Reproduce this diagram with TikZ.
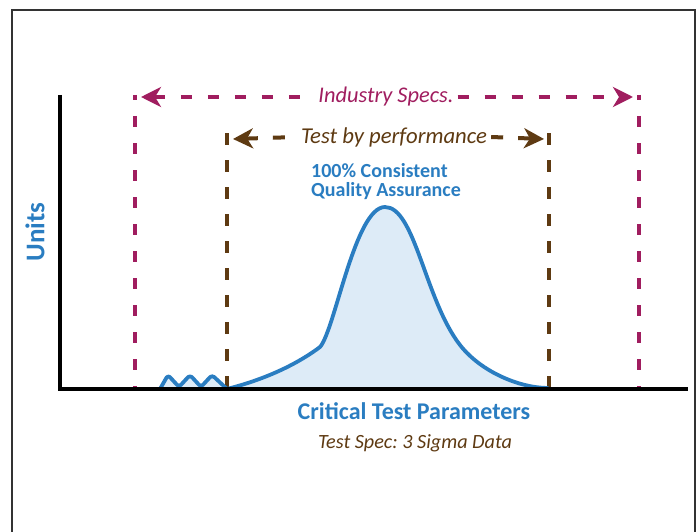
\documentclass[tikz,border=0pt]{standalone}
\usepackage{fontspec}
\setmainfont{Carlito}
\usetikzlibrary{arrows.meta}
\frenchspacing

\definecolor{curveBlue}{HTML}{2A7DC1}
\definecolor{curveFill}{HTML}{DDEBF7}
\definecolor{specMagenta}{HTML}{A01D5F}
\definecolor{perfBrown}{HTML}{5E3A12}

\tikzstyle{frameLine} = [line width=1.5pt, black!80]
\tikzstyle{axisLine} = [line width=4pt, black]
\tikzstyle{specLine} = [line width=4pt, specMagenta, dash pattern=on 11pt off 16pt]
\tikzstyle{perfLine} = [line width=4pt, perfBrown, dash pattern=on 12pt off 15pt]
\tikzstyle{arrow} = [>={Stealth[length=20pt,width=20pt,inset=6pt]}]
\tikzstyle{curveLine} = [line width=3.8pt, curveBlue, line join=round, line cap=round]
\tikzstyle{blueLabel} = [text=curveBlue, font=\fontsize{24}{26}\selectfont\bfseries, inner sep=0pt]
\tikzstyle{specLabel} = [text=specMagenta, font=\fontsize{22.4}{24}\selectfont\itshape, inner sep=4pt]
\tikzstyle{perfLabel} = [text=perfBrown, font=\fontsize{22.7}{24}\selectfont\itshape, inner sep=4pt]

\begin{document}
\begin{tikzpicture}[x=1pt,y=-1pt]
    \useasboundingbox (0,0) rectangle (698,532);
    \draw [frameLine] (12,532) -- (12,10) -- (695,10) -- (695,532);

    % distribution
    \fill [curveFill, rounded corners=3pt] (160,389) -- (168,375) -- (179,387) -- (190,375) -- (201,387) -- (212,375) -- (227,389) -- cycle;
    \fill [curveFill] (227,389) .. controls (270,378) and (300,362) .. (320,347)
        .. controls (335,330) and (355,207) .. (385,207)
        .. controls (415,207) and (425,300) .. (460,345)
        .. controls (481,372) and (520,388) .. (548,388) -- cycle;

    % spec limits
    \coordinate (specTopL) at (135,95);
    \coordinate (specBotL) at (135,389);
    \coordinate (specTopR) at (639,95);
    \coordinate (specBotR) at (639,389);
    \coordinate (perfTopL) at (227,133);
    \coordinate (perfBotL) at (227,389);
    \coordinate (perfTopR) at (549,133);
    \coordinate (perfBotR) at (549,389);
    \draw [specLine, dash phase=6pt] (specTopL) -- (specBotL);
    \draw [specLine, dash phase=6pt] (specTopR) -- (specBotR);
    \draw [perfLine] (perfTopL) -- (perfBotL);
    \draw [perfLine] (perfTopR) -- (perfBotR);

    \draw [curveLine, rounded corners=3pt] (160,389) -- (168,375) -- (179,387) -- (190,375) -- (201,387) -- (212,375) -- (227,389);
    \draw [curveLine] (227,389) .. controls (270,378) and (300,362) .. (320,347)
        .. controls (335,330) and (355,207) .. (385,207)
        .. controls (415,207) and (425,300) .. (460,345)
        .. controls (481,372) and (520,388) .. (548,388);

    % arrows
    \node (specText) [specLabel] at (386,97) {Industry Specs.};
    \coordinate (specL) at (141,97);
    \coordinate (specR) at (633,97);
    \draw [specLine, arrow, <-] (specL) -- (specText.west);
    \draw [specLine, arrow, ->] (specText.east) -- (specR);

    \node (perfText) [perfLabel] at (394,137) {Test by performance};
    \coordinate (perfL) at (233,139);
    \coordinate (perfR) at (544,139);
    \draw [perfLine, arrow, <-] (perfL) -- (perfText.west);
    \draw [perfLine, arrow, ->] (perfText.east) -- (perfR);

    % axes
    \coordinate (origin) at (60,389);
    \coordinate (yEnd) at (60,95);
    \coordinate (xEnd) at (688,389);
    \draw [axisLine] (yEnd) -- (origin) -- (xEnd);

    % labels
    \node (units) [blueLabel, rotate=90, font=\fontsize{27}{29}\selectfont\bfseries] at (35,232) {Units};
    \node (critical) [blueLabel] at (414,411) {Critical Test Parameters};
    \node (quality) [blueLabel, anchor=west, align=left, font=\fontsize{20}{19}\selectfont\bfseries] at (311,182) {100\% Consistent\\Quality Assurance};
    \node (testSpec) [perfLabel, font=\fontsize{20.2}{22}\selectfont\itshape] at (415,443) {Test Spec: 3 Sigma Data};
\end{tikzpicture}
\end{document}
